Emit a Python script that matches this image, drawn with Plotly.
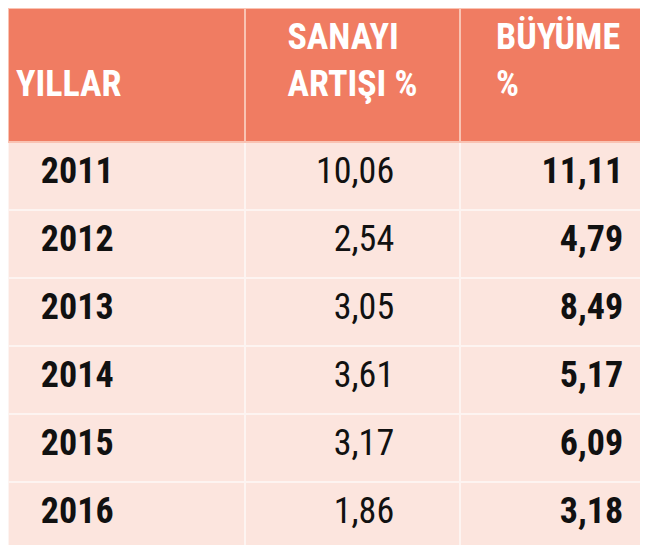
import plotly.graph_objects as go

# table data
headers = ["&nbsp;<br>YILLAR", "SANAYI<br>ARTIŞI %", "BÜYÜME<br>%"]
years = ["2011", "2012", "2013", "2014", "2015", "2016"]
industry = ["10,06", "2,54", "3,05", "3,61", "3,17", "1,86"]
growth = ["11,11", "4,79", "8,49", "5,17", "6,09", "3,18"]

FONT = "Liberation Sans Narrow, Roboto Condensed, Arial Narrow, sans-serif"
ORANGE = "#f07c62"

fig = go.Figure(go.Table(
    columnwidth=[237, 215, 196],
    header=dict(
        values=["<b>" + h + "</b>" for h in headers],
        fill_color=ORANGE,
        line=dict(color="#f9c3b3", width=2),
        align=["left", "center", "center"],
        font=dict(family=FONT, size=36, color="white"),
        height=134,
    ),
    cells=dict(
        values=[
            ["&nbsp;&nbsp;&nbsp;<b>" + y + "</b>" for y in years],
            [v + "&nbsp;&nbsp;&nbsp;&nbsp;&nbsp;&nbsp;&nbsp;" for v in industry],
            ["<b>" + v + "</b>&nbsp;&nbsp;&nbsp;" for v in growth],
        ],
        fill_color="#fce5de",
        line=dict(color="#fdf4f1", width=2),
        align=["left", "right", "right"],
        font=dict(family=FONT, size=36, color="#111111"),
        height=68,
    ),
))

fig.update_layout(
    width=648, height=545,
    margin=dict(l=0, r=0, t=0, b=0),
    paper_bgcolor="#fce5de",
)

fig.write_html("out.html")
